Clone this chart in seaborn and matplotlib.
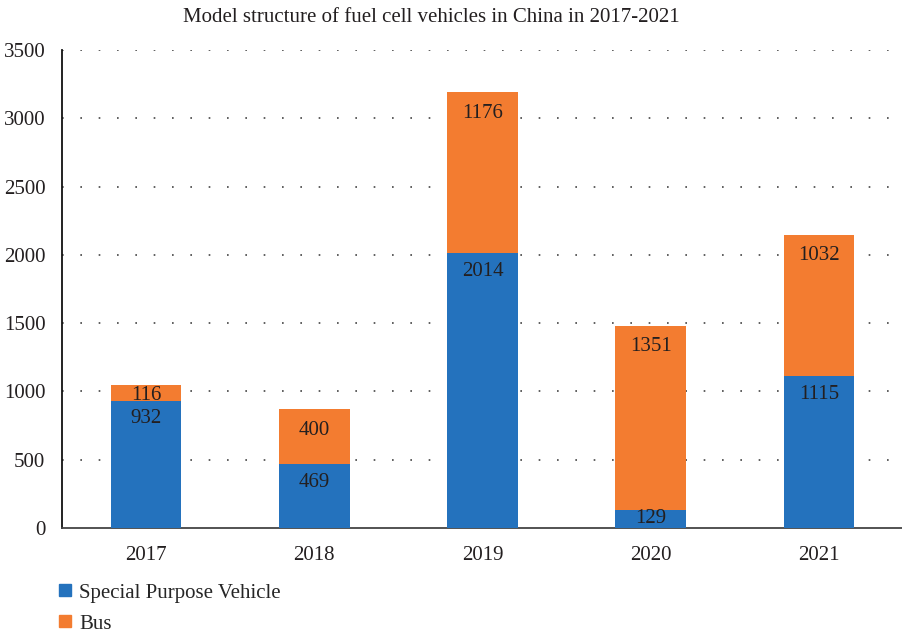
import matplotlib
matplotlib.use("Agg")
import matplotlib.pyplot as plt
import seaborn as sns
import pandas as pd
from matplotlib.lines import Line2D

years = ["2017", "2018", "2019", "2020", "2021"]
special_purpose = [932, 469, 2014, 129, 1115]
bus = [116, 400, 1176, 1351, 1032]
yticks = [0, 500, 1000, 1500, 2000, 2500, 3000, 3500]
title = "Model structure of fuel cell vehicles in China in 2017-2021"

BLUE = "#2472BD"
ORANGE = "#F37C30"
TXT = "#231f20"

sns.set_theme(style="white")
plt.rcParams["font.family"] = ["Liberation Serif", "DejaVu Serif"]

df = pd.DataFrame({"year": years, "spv": special_purpose, "bus": bus})
df["total"] = df["spv"] + df["bus"]

fig = plt.figure(figsize=(9.03, 6.33), dpi=100)
ax = fig.add_axes([62 / 903, 105 / 633, 1 - 62 / 903, (528 - 50) / 633])

sns.barplot(data=df, x="year", y="total", color=ORANGE, width=0.42,
            saturation=1, linewidth=0, ax=ax, zorder=3)
sns.barplot(data=df, x="year", y="spv", color=BLUE, width=0.42,
            saturation=1, linewidth=0, ax=ax, zorder=3)

ax.set_ylim(0, 3500)
ax.set_xlim(-0.5, 4.5)
ax.set_yticks(yticks)
ax.set_yticklabels([str(t) for t in yticks])
ax.set_xlabel("")
ax.set_ylabel("")
ax.tick_params(axis="both", length=0, labelsize=15, colors=TXT)
ax.tick_params(axis="y", pad=12)
ax.tick_params(axis="x", pad=13)

for t in yticks[1:]:
    ax.axhline(t, color="#444444", linestyle=(0, (1, 10)), linewidth=1.2, zorder=1)

for s in ["top", "right"]:
    ax.spines[s].set_visible(False)
ax.spines["left"].set_color("#111111")
ax.spines["left"].set_linewidth(1.3)
ax.spines["bottom"].set_color("#444444")
ax.spines["bottom"].set_linewidth(1.3)

# value labels inside the top of each segment
for i in range(len(years)):
    spv_top = special_purpose[i]
    tot_top = special_purpose[i] + bus[i]
    off_bus = -11 if bus[i] < 200 else -21
    if special_purpose[i] < 200:
        off_spv = -8
    elif i == 0:
        off_spv = -18
    else:
        off_spv = -19
    ax.annotate(str(bus[i]), (i, tot_top), xytext=(0, off_bus),
                textcoords="offset pixels", ha="center", va="center",
                fontsize=15, color=TXT, zorder=5)
    ax.annotate(str(special_purpose[i]), (i, spv_top), xytext=(0, off_spv),
                textcoords="offset pixels", ha="center", va="center",
                fontsize=15, color=TXT, zorder=5)

fig.text(431 / 903, 1 - 18 / 633, title, ha="center", va="center",
         fontsize=15, color=TXT)

handles = [Line2D([0], [0], marker="s", linestyle="", color=BLUE, markersize=8),
           Line2D([0], [0], marker="s", linestyle="", color=ORANGE, markersize=8)]
fig.legend(handles, ["Special Purpose Vehicle", "Bus"], loc="upper left",
           bbox_to_anchor=(55 / 903, 1 - 583 / 633), frameon=False,
           fontsize=15, handletextpad=0.15, labelspacing=0.55, handlelength=1.0,
           borderaxespad=0, borderpad=0)

fig.savefig("out.png", dpi=100)
